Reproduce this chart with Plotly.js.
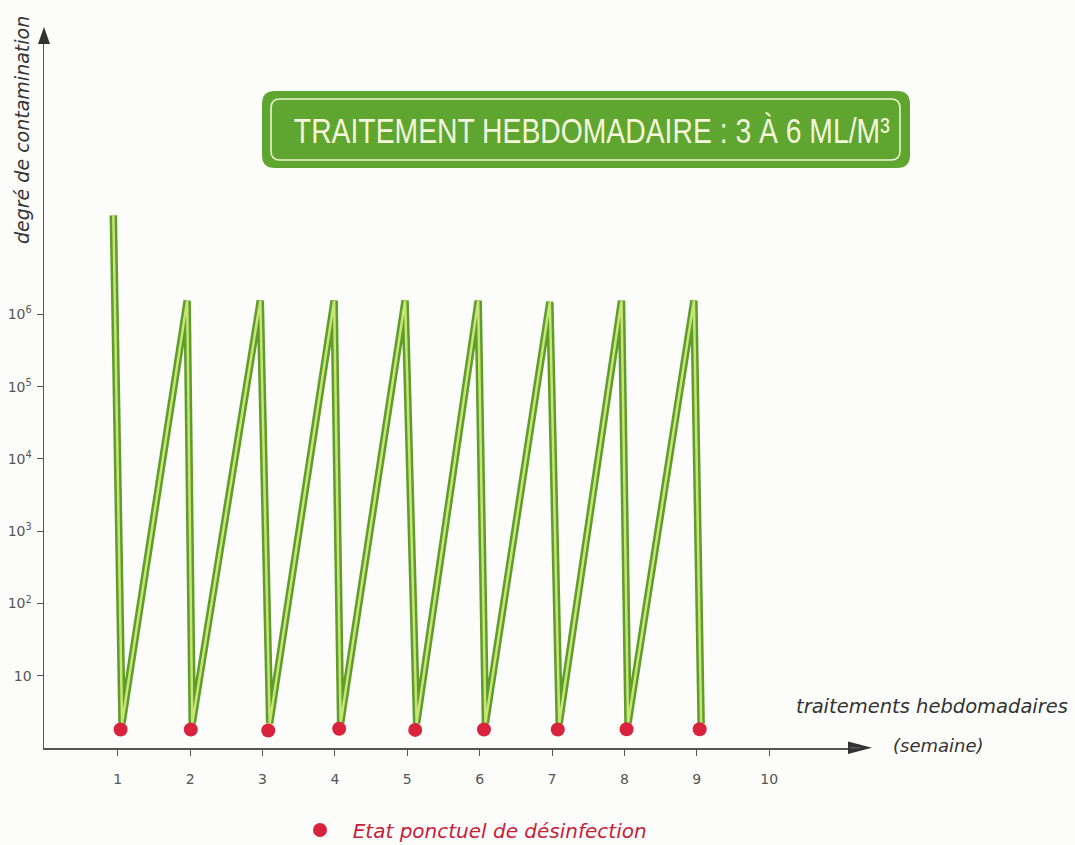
<!DOCTYPE html>
<html>
<head>
<meta charset="utf-8">
<script src="https://cdn.plot.ly/plotly-3.0.1.min.js"></script>
<style>html,body{margin:0;padding:0;background:#fcfcfa;}#chart{width:1075px;height:845px;}</style>
</head>
<body>
<div id="chart"></div>
<script>
// ---- data ----
const startWeek = 0.94;          // first (initial) contamination point
const startLevel = 2.35e7;
const peakWeeks = [1.96, 2.97, 3.99, 4.97, 5.98, 6.97, 7.96, 8.96];
const peakLevels = [1.55e6, 1.55e6, 1.55e6, 1.55e6, 1.55e6, 1.5e6, 1.55e6, 1.55e6];
const troughWeeks = [1.06, 2.03, 3.10, 4.08, 5.13, 6.08, 7.10, 8.05, 9.06];
const troughLevels = [2.2, 2.2, 2.2, 2.2, 2.2, 2.2, 2.2, 2.2, 2.2];
const dotWeeks = [1.04, 2.01, 3.08, 4.06, 5.11, 6.06, 7.08, 8.03, 9.04];
const dotLevels = [1.8, 1.8, 1.75, 1.85, 1.78, 1.8, 1.8, 1.82, 1.82];
const xTickVals = [1, 2, 3, 4, 5, 6, 7, 8, 9, 10];
const xTickText = ['1', '2', '3', '4', '5', '6', '7', '8', '9', '10'];
const yTickVals = [10, 100, 1000, 10000, 100000, 1000000];
const yTickText = ['10', '10<sup>2</sup>', '10<sup>3</sup>', '10<sup>4</sup>', '10<sup>5</sup>', '10<sup>6</sup>'];

// build the sawtooth path from the arrays
const lineX = [startWeek], lineY = [startLevel];
for (let i = 0; i < troughWeeks.length; i++) {
  lineX.push(troughWeeks[i]); lineY.push(troughLevels[i]);
  if (i < peakWeeks.length) { lineX.push(peakWeeks[i]); lineY.push(peakLevels[i]); }
}

// ---- layout geometry ----
const W = 1075, H = 845;
const M = {l: 44, r: 211, t: 29, b: 97, autoexpand: false};
const PW = W - M.l - M.r, PH = H - M.t - M.b;
const px = x => (x - M.l) / PW;
const py = y => (H - M.b - y) / PH;
function roundRect(x0, y0, x1, y1, r) {
  const P = (x, y) => px(x) + ',' + py(y);
  return 'M' + P(x0 + r, y0) + ' L' + P(x1 - r, y0) + ' Q' + P(x1, y0) + ' ' + P(x1, y0 + r) +
    ' L' + P(x1, y1 - r) + ' Q' + P(x1, y1) + ' ' + P(x1 - r, y1) +
    ' L' + P(x0 + r, y1) + ' Q' + P(x0, y1) + ' ' + P(x0, y1 - r) +
    ' L' + P(x0, y0 + r) + ' Q' + P(x0, y0) + ' ' + P(x0 + r, y0) + ' Z';
}
function tri(a, b, c) {
  const P = p => px(p[0]) + ',' + py(p[1]);
  return 'M' + P(a) + ' L' + P(b) + ' L' + P(c) + ' Z';
}

const FONT = '"DejaVu Sans", Lato, sans-serif';
const traces = [
  {x: lineX, y: lineY, mode: 'lines', line: {color: '#5e9c2c', width: 7.5}, showlegend: false, hoverinfo: 'skip'},
  {x: lineX, y: lineY, mode: 'lines', line: {color: '#c8e575', width: 2.5}, showlegend: false, hoverinfo: 'skip'},
  {x: dotWeeks, y: dotLevels, mode: 'markers', name: '\u00a0\u00a0Etat ponctuel de désinfection',
   marker: {color: '#d9233c', size: 14, line: {width: 0}}, showlegend: true}
];

const layout = {
  width: W, height: H,
  margin: M,
  paper_bgcolor: '#fcfcfa', plot_bgcolor: 'rgba(0,0,0,0)',
  font: {family: FONT, color: '#444'},
  showlegend: true,
  legend: {x: px(300), y: py(830), xanchor: 'left', yanchor: 'middle', bgcolor: 'rgba(0,0,0,0)',
           font: {family: FONT, size: 20, color: '#c8203a', style: 'italic'}},
  xaxis: {range: [-0.018, 11.31], tickvals: xTickVals, ticktext: xTickText, showgrid: false, zeroline: false,
          showline: true, linecolor: '#555', linewidth: 1.5, ticks: 'outside', ticklen: 6, tickcolor: '#555',
          ticklabelstandoff: 12, tickfont: {size: 14, color: '#555', family: FONT}, fixedrange: true},
  yaxis: {type: 'log', range: [0, 9.95], tickvals: yTickVals, ticktext: yTickText, showgrid: false, zeroline: false,
          showline: true, linecolor: '#555', linewidth: 1.5, ticks: 'outside', ticklen: 6, tickcolor: '#555',
          ticklabelstandoff: 2, tickfont: {size: 14, color: '#555', family: FONT}, fixedrange: true},
  shapes: [
    {type: 'path', xref: 'paper', yref: 'paper', path: roundRect(262, 91, 910, 168, 13),
     fillcolor: '#5ea62f', line: {width: 0}, layer: 'above'},
    {type: 'path', xref: 'paper', yref: 'paper', path: roundRect(271, 99, 900, 160, 9),
     fillcolor: 'rgba(0,0,0,0)', line: {color: '#eef3cf', width: 1.6}, layer: 'above'},
    {type: 'path', xref: 'paper', yref: 'paper', path: tri([44, 27], [38, 44], [50, 44]),
     fillcolor: '#333', line: {width: 0}},
    {type: 'path', xref: 'paper', yref: 'paper', path: tri([872, 747.7], [848, 741.5], [848, 754]),
     fillcolor: '#333', line: {width: 0}},
    {type: 'line', xref: 'paper', yref: 'paper', x0: px(860), x1: px(850), y0: py(747.7), y1: py(747.7),
     line: {color: '#555', width: 1.5}}
  ],
  annotations: [
    {xref: 'paper', yref: 'paper', x: px(591), y: py(130), text: 'TRAITEMENT HEBDOMADAIRE : 3 À 6 ML/M³',
     showarrow: false, xanchor: 'center', yanchor: 'middle',
     font: {family: '"Liberation Sans Narrow", "Liberation Sans", sans-serif', size: 36, color: '#f4f6dc'}},
    {xref: 'paper', yref: 'paper', x: px(22), y: py(130), text: 'degré de contamination', textangle: -90,
     showarrow: false, xanchor: 'center', yanchor: 'middle',
     font: {family: FONT, size: 19, color: '#333', style: 'italic'}},
    {xref: 'paper', yref: 'paper', x: px(1070), y: py(706), text: 'traitements hebdomadaires',
     showarrow: false, xanchor: 'right', yanchor: 'middle',
     font: {family: FONT, size: 19.5, color: '#333', style: 'italic'}},
    {xref: 'paper', yref: 'paper', x: px(938), y: py(745), text: '(semaine)',
     showarrow: false, xanchor: 'center', yanchor: 'middle',
     font: {family: FONT, size: 18, color: '#333', style: 'italic'}}
  ]
};

Plotly.newPlot('chart', traces, layout, {displayModeBar: false, staticPlot: true}).then(function (gd) {
  // condense the boxed title horizontally to the width seen in the reference
  const t = gd.querySelector('.annotation[data-index="0"] text');
  if (t) {
    const bb = t.getBBox();
    const target = 596;
    const s = Math.min(1, target / bb.width);
    const cx = bb.x + bb.width / 2;
    t.setAttribute('transform', 'translate(' + cx + ',0) scale(' + s + ',1) translate(' + (-cx) + ',0)');
  }
});
</script>
</body>
</html>
